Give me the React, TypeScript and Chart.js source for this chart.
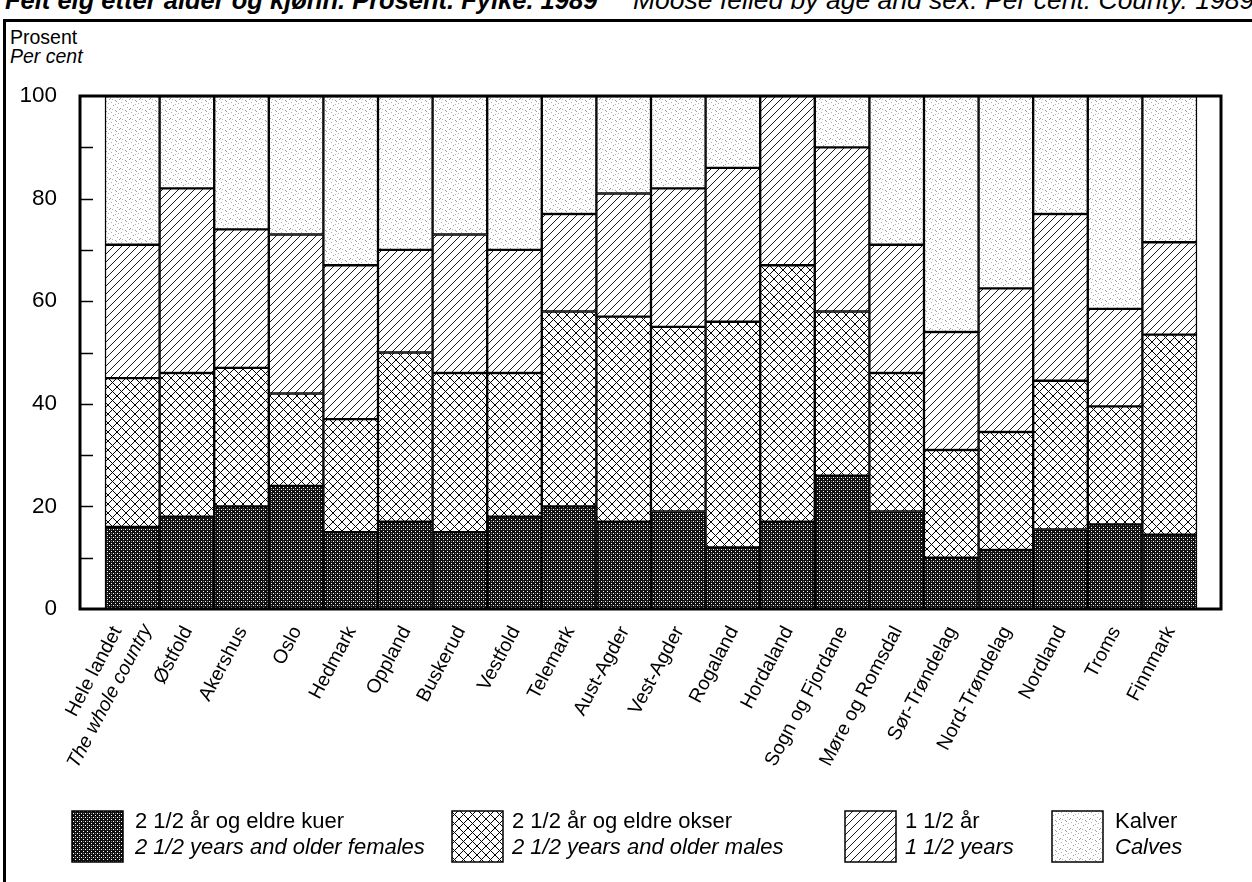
import React, { useEffect, useRef } from 'react';
import { Chart, registerables } from 'chart.js';

Chart.register(...registerables);

// ---------- data ----------
const categories = [
  'Hele landet', 'Østfold', 'Akershus', 'Oslo', 'Hedmark', 'Oppland', 'Buskerud',
  'Vestfold', 'Telemark', 'Aust-Agder', 'Vest-Agder', 'Rogaland', 'Hordaland',
  'Sogn og Fjordane', 'Møre og Romsdal', 'Sør-Trøndelag', 'Nord-Trøndelag',
  'Nordland', 'Troms', 'Finnmark',
];
const firstCategoryEnglish = 'The whole country';

// 2 1/2 years and older females
const females = [16, 18, 20, 24, 15, 17, 15, 18, 20, 17, 19, 12, 17, 26, 19, 10, 11.5, 15.5, 16.5, 14.5];
// 2 1/2 years and older males
const males = [29, 28, 27, 18, 22, 33, 31, 28, 38, 40, 36, 44, 50, 32, 27, 21, 23, 29, 23, 39];
// 1 1/2 years
const yearlings = [26, 36, 27, 31, 30, 20, 27, 24, 19, 24, 27, 30, 33, 32, 25, 23, 28, 32.5, 19, 18];
// Calves
const calves = [29, 18, 26, 27, 33, 30, 27, 30, 23, 19, 18, 14, 0, 10, 29, 46, 37.5, 23, 41.5, 28.5];

const legendNorwegian = ['2 1/2 år og eldre kuer', '2 1/2 år og eldre okser', '1 1/2 år', 'Kalver'];
const legendEnglish = ['2 1/2 years and older females', '2 1/2 years and older males', '1 1/2 years', 'Calves'];

const yTickStep = 10;
const yLabelStep = 20;

const FONT = '"Liberation Sans", Arial, Helvetica, sans-serif';

// ---------- patterns ----------
function makePattern(kind: string): CanvasPattern | string {
  const c = document.createElement('canvas');
  let size = 8;
  if (kind === 'dense') size = 4;
  if (kind === 'cross') size = 9;
  if (kind === 'diag') size = 8;
  if (kind === 'dots') size = 10;
  c.width = size;
  c.height = size;
  const g = c.getContext('2d')!;
  if (kind === 'dense') {
    g.fillStyle = '#111';
    g.fillRect(0, 0, size, size);
    g.fillStyle = '#fff';
    g.fillRect(1, 1, 1, 1);
    g.fillRect(3, 3, 1, 1);
    g.fillStyle = '#777';
    g.fillRect(3, 1, 1, 1);
  } else if (kind === 'cross') {
    g.fillStyle = '#fff';
    g.fillRect(0, 0, size, size);
    g.strokeStyle = '#000';
    g.lineWidth = 1;
    g.beginPath();
    g.moveTo(-1, -1); g.lineTo(size + 1, size + 1);
    g.moveTo(-1, size + 1); g.lineTo(size + 1, -1);
    g.stroke();
  } else if (kind === 'diag') {
    g.fillStyle = '#fff';
    g.fillRect(0, 0, size, size);
    g.strokeStyle = '#000';
    g.lineWidth = 0.9;
    g.beginPath();
    g.moveTo(-1, size + 1); g.lineTo(size + 1, -1);
    g.moveTo(-2, 2); g.lineTo(2, -2);
    g.moveTo(size - 2, size + 2); g.lineTo(size + 2, size - 2);
    g.stroke();
  } else {
    g.fillStyle = '#fff';
    g.fillRect(0, 0, size, size);
    const spots = [[1, 2], [5, 0], [8, 3], [3, 5], [7, 7], [0, 8], [5, 4], [9, 9], [2, 9], [6, 1]];
    spots.forEach(([x, y], k) => {
      g.fillStyle = k % 2 ? '#9a9a9a' : '#b4b4b4';
      g.fillRect(x, y, 1, 1);
    });
  }
  const p = g.createPattern(c, 'repeat');
  return p || '#888';
}

export default function App() {
  const canvasRef = useRef<HTMLCanvasElement | null>(null);

  useEffect(() => {
    const canvas = canvasRef.current;
    if (!canvas) return;
    const patterns = [makePattern('dense'), makePattern('cross'), makePattern('diag'), makePattern('dots')];
    const series = [females, males, yearlings, calves];

    const framePlugin = {
      id: 'framePlugin',
      afterDraw(chart: any) {
        const { ctx, chartArea } = chart;
        const ys = chart.scales.y;
        const xs = chart.scales.x;
        ctx.save();
        // minor ticks inside the frame
        ctx.strokeStyle = '#000';
        ctx.lineWidth = 1.5;
        for (let v = yTickStep; v < 100; v += yTickStep) {
          const y = Math.round(ys.getPixelForValue(v)) + 0.5;
          ctx.beginPath();
          ctx.moveTo(chartArea.left, y);
          ctx.lineTo(chartArea.left + 13, y);
          ctx.stroke();
        }
        // frame
        ctx.lineWidth = 3;
        ctx.strokeRect(chartArea.left, chartArea.top, chartArea.right - chartArea.left, chartArea.bottom - chartArea.top);

        // x labels
        ctx.fillStyle = '#000';
        ctx.textAlign = 'right';
        ctx.textBaseline = 'middle';
        const angle = (62 * Math.PI) / 180;
        categories.forEach((name, i) => {
          const px = xs.getPixelForValue(i);
          const lines: [string, number, number, boolean][] =
            i === 0
              ? [[name, px - 15, chartArea.bottom + 19, false], [firstCategoryEnglish, px + 15, chartArea.bottom + 17, true]]
              : [[name, px + 1, chartArea.bottom + 19, false]];
          lines.forEach(([text, ax, ay, italic]) => {
            ctx.save();
            ctx.translate(ax, ay);
            ctx.rotate(-angle);
            ctx.font = (italic ? 'italic ' : '') + '19.5px ' + FONT;
            ctx.fillText(text, 0, 0);
            ctx.restore();
          });
        });

        // legend
        const boxX = [72, 452, 845, 1052];
        const textX = [135, 512, 905, 1115];
        const boxY = 811;
        const boxS = 51;
        ctx.textAlign = 'left';
        ctx.textBaseline = 'alphabetic';
        for (let k = 0; k < 4; k++) {
          ctx.fillStyle = patterns[k] as any;
          ctx.fillRect(boxX[k], boxY, boxS, boxS);
          ctx.lineWidth = 1.5;
          ctx.strokeStyle = '#000';
          ctx.strokeRect(boxX[k], boxY, boxS, boxS);
          ctx.fillStyle = '#000';
          ctx.font = '22px ' + FONT;
          ctx.fillText(legendNorwegian[k], textX[k], 828);
          ctx.font = 'italic 22px ' + FONT;
          ctx.fillText(legendEnglish[k], textX[k], 854);
        }
        ctx.restore();
      },
    };

    const chart = new Chart(canvas, {
      type: 'bar',
      data: {
        datasets: series.map((vals, k) => ({
          label: legendEnglish[k],
          data: vals.map((v, i) => ({ x: i, y: v })),
          backgroundColor: patterns[k] as any,
          borderColor: '#000',
          borderWidth: 1.5,
          borderSkipped: false,
          barPercentage: 1,
          categoryPercentage: 1,
        })),
      },
      options: {
        responsive: false,
        animation: false,
        events: [],
        layout: { padding: { left: 8, top: 96, right: 31, bottom: 0 } },
        plugins: {
          legend: { display: false },
          tooltip: { enabled: false },
        },
        scales: {
          x: {
            type: 'linear',
            stacked: true,
            offset: false,
            min: -0.958,
            max: 19.94,
            grid: { display: false, offset: false },
            border: { display: false },
            ticks: { display: false },
            afterBuildTicks: (s: any) => {
              s.ticks = categories.map((_, i) => ({ value: i }));
            },
            afterFit: (s: any) => {
              s.height = 273;
            },
          },
          y: {
            stacked: true,
            min: 0,
            max: 100,
            grid: { display: false, drawTicks: false },
            border: { display: false },
            ticks: {
              stepSize: yTickStep,
              autoSkip: false,
              padding: 23,
              color: '#000',
              font: { family: FONT, size: 22.5 },
              callback: (v: any) => (Number(v) % yLabelStep === 0 ? String(v) : ''),
            },
            afterFit: (s: any) => {
              s.width = 72;
            },
          },
        },
      } as any,
      plugins: [framePlugin],
    });
    return () => chart.destroy();
  }, []);

  return (
    <div
      style={{
        position: 'absolute',
        left: 0,
        top: 0,
        width: 1252,
        height: 882,
        overflow: 'hidden',
        background: '#fff',
        fontFamily: FONT,
        color: '#000',
      }}
    >
      <div style={{ position: 'absolute', left: 5, top: -12, fontSize: 25.5, lineHeight: '25px', whiteSpace: 'nowrap', fontWeight: 'bold', fontStyle: 'italic' }}>
        Felt elg etter alder og kjønn. Prosent. Fylke. 1989
      </div>
      <div style={{ position: 'absolute', left: 633, top: -12, fontSize: 26.5, lineHeight: '25px', whiteSpace: 'nowrap', fontStyle: 'italic' }}>
        Moose felled by age and sex. Per cent. County. 1989
      </div>
      <div style={{ position: 'absolute', left: 3, top: 19, width: 1260, height: 2.5, background: '#000' }} />
      <div style={{ position: 'absolute', left: 3, top: 19, width: 2.5, height: 900, background: '#000' }} />
      <div style={{ position: 'absolute', left: 10, top: 27, fontSize: 19.5, lineHeight: '20px', whiteSpace: 'nowrap' }}>
        Prosent
      </div>
      <div style={{ position: 'absolute', left: 10, top: 46, fontSize: 19.5, lineHeight: '20px', whiteSpace: 'nowrap', fontStyle: 'italic' }}>
        Per cent
      </div>
      <canvas ref={canvasRef} width={1252} height={882} style={{ position: 'absolute', left: 0, top: 0 }} />
    </div>
  );
}
